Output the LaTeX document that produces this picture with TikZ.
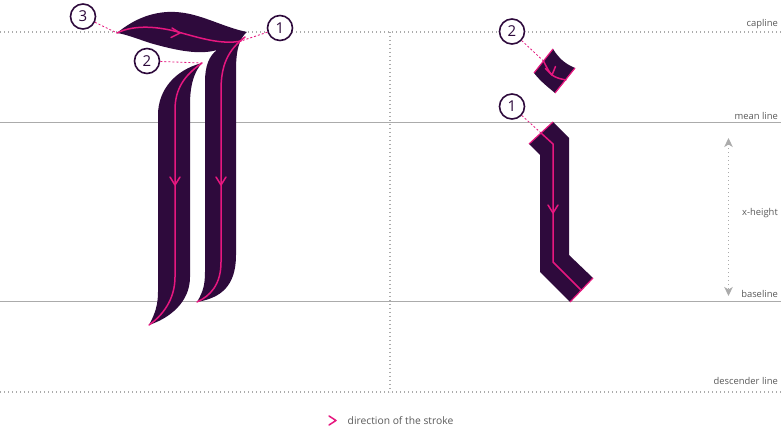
\documentclass[tikz,border=0pt]{standalone}
\usepackage{fontspec}
\setmainfont{Open Sans}
\usetikzlibrary{arrows.meta}
\definecolor{glyphc}{HTML}{2E0A3C}
\definecolor{pinkc}{HTML}{E6177F}
\definecolor{linec}{HTML}{ABABAB}
\definecolor{textc}{HTML}{5A5A5A}
\begin{document}
\begin{tikzpicture}[x=1pt,y=-1pt,
  glyph/.style={fill=glyphc,draw=none},
  strokeline/.style={draw=pinkc,line width=1.5pt,line cap=round,line join=round},
  edgeline/.style={draw=pinkc,line width=1.2pt},
  leader/.style={draw=pinkc,line width=0.8pt,dash pattern=on 2pt off 2pt},
  numc/.style={circle,draw=glyphc,line width=1.6pt,fill=white,minimum size=25pt,inner sep=0pt,font=\fontsize{15}{15}\selectfont,text=glyphc},
  lbl/.style={font=\fontsize{9.4}{10}\selectfont,text=textc,inner sep=0pt},
  guide/.style={draw=linec,line width=0.9pt},
  dotguide/.style={draw=linec,line width=1.1pt,dash pattern=on 1.1pt off 2.9pt}]
\useasboundingbox (0,0) rectangle (781,427);
\fill[white] (0,0) rectangle (781,427);

% guide lines
\draw[dotguide] (0,32) -- (781,32);
\draw[guide] (0,122.5) -- (781,122.5);
\draw[guide] (0,301.5) -- (781,301.5);
\draw[dotguide] (0,392) -- (781,392);
\draw[dotguide] (390,32) -- (390,392);

% labels
\node[lbl,anchor=base east] (lcap) at (778,26.5) {capline};
\node[lbl,anchor=base east] (lmean) at (778,120) {mean line};
\node[lbl,anchor=base east] (lx) at (778,215.5) {x-height};
\node[lbl,anchor=base east] (lbase) at (778,298) {baseline};
\node[lbl,anchor=base east] (ldesc) at (778,384.5) {descender line};

% x-height arrow
\coordinate (xt) at (728.5,138);
\coordinate (xb) at (728.5,296);
\draw[dotguide,{Stealth[length=9pt,width=8.5pt,inset=2.5pt,fill=linec]}-{Stealth[length=9pt,width=8.5pt,inset=2.5pt,fill=linec]}] (xt) -- (xb);

% ---------- left glyph ----------
% leaf + right stem
\fill[glyph] (117,33) .. controls (135,18) and (155,11) .. (175,12)
  .. controls (200,13) and (222,27) .. (247,32)
  .. controls (240,38) and (236,48) .. (236,70)
  -- (236,255) .. controls (236,287) and (220,298) .. (197,302)
  .. controls (203,292) and (205,285) .. (205,272)
  -- (205,82) .. controls (205,66) and (209,56) .. (217,50)
  .. controls (200,55) and (178,51) .. (150,43)
  .. controls (138,39) and (125,34) .. (117,33) -- cycle;
% left stem
\fill[glyph] (202,63) .. controls (194,72) and (190,85) .. (190,105)
  -- (190,277) .. controls (190,302) and (170,318) .. (149,325)
  .. controls (155,314) and (158,305) .. (158,292)
  -- (158,115) .. controls (158,90) and (175,70) .. (202,63) -- cycle;

% pink stroke lines
\coordinate (p3) at (117,33);
\coordinate (p1) at (241,41);
\coordinate (p2) at (202,63);
\draw[strokeline] (p3) .. controls (135,24) and (160,27) .. (178,32)
  .. controls (200,38) and (222,45) .. (p1);
\draw[strokeline] (245,37) .. controls (228,50) and (221,65) .. (221,90)
  -- (221,262) .. controls (221,285) and (210,296) .. (197,302);
\draw[strokeline] (p2) .. controls (185,75) and (175,88) .. (175,110)
  -- (175,277) .. controls (175,300) and (162,316) .. (149,325);
% chevrons
\draw[strokeline] (172,28) -- (180,33) -- (171,37.5);
\draw[strokeline] (216,177) -- (221,185) -- (226,177);
\draw[strokeline] (170,177) -- (175,185) -- (180,177);

% circled numbers
\node[numc] (c3) at (83,16.5) {3};
\node[numc] (c1) at (280,28) {1};
\node[numc] (c2) at (147,61) {2};
\draw[leader] (c3) -- (p3);
\draw[leader] (c1) -- (p1);
\draw[leader] (c2) -- (p2);

% ---------- right glyph i ----------
\fill[glyph] (529,144) -- (553,122) -- (569,138) -- (569,255) -- (593,278)
  -- (570,302) -- (540,272) -- (540,155) -- cycle;
\draw[edgeline] (529,144) -- (553,122);
\draw[edgeline] (593,278) -- (570,302);
\coordinate (q1) at (541,133);
\draw[strokeline] (q1) -- (553,144) -- (553,262) -- (581,290);
\draw[strokeline] (548,205) -- (553,213) -- (558,205);

% dot
\fill[glyph] (534,73) -- (553,49) .. controls (560,60) and (566,64) .. (575,68)
  -- (555,93) .. controls (548,87) and (541,82) .. (534,73) -- cycle;
\draw[edgeline] (534,73) -- (553,49);
\draw[edgeline] (575,68) -- (555,93);
\coordinate (q2) at (543.5,61);
\draw[strokeline] (q2) .. controls (547,68) and (549,72) .. (552,75)
  .. controls (556,78) and (561,79) .. (566,80);
\draw[strokeline] (545.5,68.5) -- (552,75) -- (555.5,66.5);

\node[numc] (d2) at (512,31.5) {2};
\node[numc] (d1) at (512,106.5) {1};
\draw[leader] (d2) -- (q2);
\draw[leader] (d1) -- (q1);

% legend
\coordinate (g1) at (329,416);
\coordinate (g2) at (336,420.5);
\coordinate (g3) at (329,425);
\draw[strokeline] (g1) -- (g2) -- (g3);
\node[lbl,font=\fontsize{10.3}{11}\selectfont,anchor=base west] (leg) at (347.5,424.5) {direction of the stroke};
\end{tikzpicture}
\end{document}
